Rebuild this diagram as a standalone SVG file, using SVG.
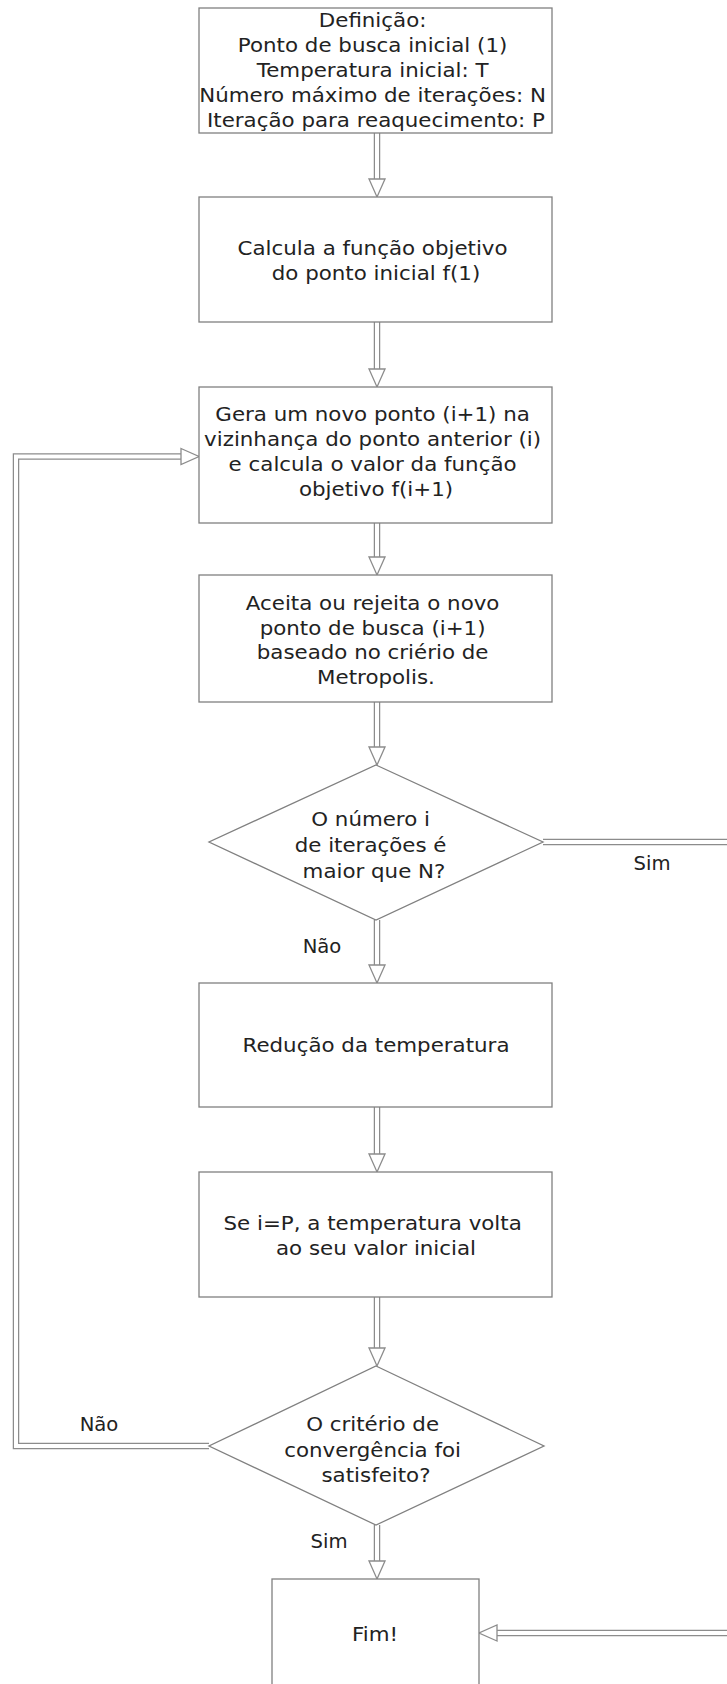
<svg xmlns="http://www.w3.org/2000/svg" width="727" height="1684" viewBox="0 0 727 1684">
  <defs>
    <style>
      .box { fill: #ffffff; stroke: #808080; stroke-width: 1.3; }
      .t { font-family: "DejaVu Sans", "Liberation Sans", sans-serif; font-size: 19.6px; fill: #222222; text-anchor: middle; }
      .o { fill: none; stroke: #8c8c8c; stroke-width: 6.5; stroke-linejoin: miter; }
      .i { fill: none; stroke: #ffffff; stroke-width: 4; stroke-linejoin: miter; marker-end: url(#head); }
      .in { fill: none; stroke: #ffffff; stroke-width: 4; stroke-linejoin: miter; }
    </style>
    <!-- hollow triangular arrowhead; path ends at the head's base -->
    <marker id="head" markerUnits="userSpaceOnUse" markerWidth="22" markerHeight="20" refX="1" refY="10" orient="auto" overflow="visible">
      <polygon points="0,2 18,10 0,18" fill="#ffffff" stroke="#8c8c8c" stroke-width="1.3" stroke-linejoin="miter"/>
    </marker>
  </defs>
  <rect width="727" height="1684" fill="#ffffff"/>

  <!-- connectors: double-line shafts (grey outline with white core) -->
  <g id="connectors">
    <path class="o" d="M377 133 V180"/><path class="i" d="M377 133 V180"/>
    <path class="o" d="M377 322 V370"/><path class="i" d="M377 322 V370"/>
    <path class="o" d="M377 523 V558"/><path class="i" d="M377 523 V558"/>
    <path class="o" d="M377 702 V748"/><path class="i" d="M377 702 V748"/>
    <path class="o" d="M377 920 V966"/><path class="i" d="M377 920 V966"/>
    <path class="o" d="M377 1107 V1155"/><path class="i" d="M377 1107 V1155"/>
    <path class="o" d="M377 1297 V1349"/><path class="i" d="M377 1297 V1349"/>
    <path class="o" d="M377 1525 V1562"/><path class="i" d="M377 1525 V1562"/>
    <!-- "Sim" branch around the right side to the end node -->
    <path class="o" d="M543 842 H740 V1633 H496"/><path class="i" d="M543 842 H740 V1633 H496"/>
    <!-- "Não" loop back to point generation -->
    <path class="o" d="M209 1446 H16 V456.5 H182"/><path class="i" d="M209 1446 H16 V456.5 H182"/>
    <text class="t" x="652" y="870">Sim</text>
    <text class="t" x="322" y="953">Não</text>
    <text class="t" x="99" y="1431">Não</text>
    <text class="t" x="329" y="1548">Sim</text>
  </g>

  <g id="definicao">
    <rect class="box" x="199" y="8" width="353" height="125"/>
    <text class="t" transform="translate(376 0) scale(1.09 1)">
      <tspan x="0" y="27.5">Definição:</tspan>
      <tspan x="0" y="52.5">Ponto de busca inicial (1)</tspan>
      <tspan x="0" y="77.5">Temperatura inicial: T</tspan>
      <tspan x="0" y="102.5">Número máximo de iterações: N</tspan>
      <tspan x="0" y="127.5">Iteração para reaquecimento: P</tspan>
    </text>
  </g>

  <g id="calcula">
    <rect class="box" x="199" y="197" width="353" height="125"/>
    <text class="t" transform="translate(376 0) scale(1.09 1)">
      <tspan x="0" y="255.5">Calcula a função objetivo</tspan>
      <tspan x="0" y="280.5">do ponto inicial f(1)</tspan>
    </text>
  </g>

  <g id="gera">
    <rect class="box" x="199" y="387" width="353" height="136"/>
    <text class="t" transform="translate(376 0) scale(1.09 1)">
      <tspan x="0" y="421">Gera um novo ponto (i+1) na</tspan>
      <tspan x="0" y="446">vizinhança do ponto anterior (i)</tspan>
      <tspan x="0" y="471">e calcula o valor da função</tspan>
      <tspan x="0" y="496">objetivo f(i+1)</tspan>
    </text>
  </g>

  <g id="aceita">
    <rect class="box" x="199" y="575" width="353" height="127"/>
    <text class="t" transform="translate(376 0) scale(1.09 1)">
      <tspan x="0" y="610">Aceita ou rejeita o novo</tspan>
      <tspan x="0" y="635">ponto de busca (i+1)</tspan>
      <tspan x="0" y="659.5">baseado no criério de</tspan>
      <tspan x="0" y="684">Metropolis.</tspan>
    </text>
  </g>

  <g id="iteracoes">
    <polygon class="box" points="376,765 543,842 376,920 209,842"/>
    <text class="t" transform="translate(374 0) scale(1.09 1)">
      <tspan x="0" y="826">O número i</tspan>
      <tspan x="0" y="852">de iterações é</tspan>
      <tspan x="0" y="878">maior que N?</tspan>
    </text>
  </g>

  <g id="reducao">
    <rect class="box" x="199" y="983" width="353" height="124"/>
    <text class="t" transform="translate(376 0) scale(1.09 1)">
      <tspan x="0" y="1052.5">Redução da temperatura</tspan>
    </text>
  </g>

  <g id="reaquecimento">
    <rect class="box" x="199" y="1172" width="353" height="125"/>
    <text class="t" transform="translate(376 0) scale(1.09 1)">
      <tspan x="0" y="1230">Se i=P, a temperatura volta</tspan>
      <tspan x="0" y="1255">ao seu valor inicial</tspan>
    </text>
  </g>

  <g id="convergencia">
    <polygon class="box" points="376,1366 544,1446 376,1525 209,1446"/>
    <text class="t" transform="translate(376 0) scale(1.09 1)">
      <tspan x="0" y="1431">O critério de</tspan>
      <tspan x="0" y="1457">convergência foi</tspan>
      <tspan x="0" y="1482">satisfeito?</tspan>
    </text>
  </g>

  <g id="fim">
    <rect class="box" x="272" y="1579" width="207" height="112"/>
    <text class="t" transform="translate(375 0) scale(1.09 1)">
      <tspan x="0" y="1641">Fim!</tspan>
    </text>
  </g>
</svg>
